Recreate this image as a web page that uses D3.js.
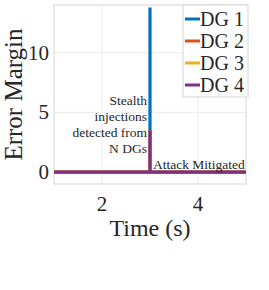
<!DOCTYPE html>
<html>
<head>
<meta charset="utf-8">
<script src="https://cdn.jsdelivr.net/npm/d3@7"></script>
<style>
  body { margin: 0; background: #fff; }
  text { font-family: "Liberation Serif", "Times New Roman", serif; fill: #262626; }
</style>
</head>
<body>
<div id="chart"></div>
<script>
// time samples (s) and error margin per DG
const time = [1, 3, 3, 3, 5];
const dg1 = [0, 0, 13.8, 0, 0];
const dg2 = [0, 0, 3.5, 0, 0];
const dg3 = [0, 0, 3.5, 0, 0];
const dg4 = [0, 0, 3.5, 0, 0];
const seriesNames = ["DG 1", "DG 2", "DG 3", "DG 4"];
const seriesColors = ["#0072BD", "#D95319", "#EDB120", "#7E2F8E"];
const xTicks = [2, 4];
const yTicks = [0, 5, 10];

const W = 269, H = 290;
const m = { left: 54, right: 23, top: 5, bottom: 106 };

const svg = d3.select("#chart").append("svg")
  .attr("width", W)
  .attr("height", H);

const x = d3.scaleLinear().domain([1, 5]).range([m.left, W - m.right]);
const y = d3.scaleLinear().domain([-1, 14]).range([H - m.bottom, m.top]);

// grid
svg.append("g").selectAll("line")
  .data(xTicks)
  .join("line")
  .attr("x1", d => x(d)).attr("x2", d => x(d))
  .attr("y1", y(-1)).attr("y2", y(14))
  .attr("stroke", "#ebebeb");
svg.append("g").selectAll("line")
  .data(yTicks)
  .join("line")
  .attr("x1", x(1)).attr("x2", x(5))
  .attr("y1", d => y(d)).attr("y2", d => y(d))
  .attr("stroke", "#ebebeb");

// box
svg.append("rect")
  .attr("x", x(1)).attr("y", y(14))
  .attr("width", x(5) - x(1)).attr("height", y(-1) - y(14))
  .attr("fill", "none").attr("stroke", "#d4d4d4");

// tick labels
svg.append("g").selectAll("text")
  .data(xTicks)
  .join("text")
  .attr("x", d => x(d)).attr("y", y(-1) + 27)
  .attr("text-anchor", "middle")
  .attr("font-size", 21)
  .text(d => d);
svg.append("g").selectAll("text")
  .data(yTicks)
  .join("text")
  .attr("x", x(1) - 5).attr("y", d => y(d) + 7)
  .attr("text-anchor", "end")
  .attr("font-size", 21)
  .text(d => d);

// axis titles
svg.append("text")
  .attr("x", (x(1) + x(5)) / 2).attr("y", 236)
  .attr("text-anchor", "middle")
  .attr("font-size", 24)
  .text("Time (s)");
svg.append("text")
  .attr("transform", `translate(22,${(y(-1) + y(14)) / 2}) rotate(-90)`)
  .attr("text-anchor", "middle")
  .attr("font-size", 25)
  .text("Error Margin");

// lines
const allSeries = [dg1, dg2, dg3, dg4];
const line = d3.line().x((d, i) => x(time[i])).y(d => y(d));
allSeries.forEach((s, k) => {
  svg.append("path")
    .datum(s)
    .attr("d", line)
    .attr("fill", "none")
    .attr("stroke", seriesColors[k])
    .attr("stroke-width", 3.2);
});

// annotations
const note = ["Stealth", "injections", "detected from", "N DGs"];
svg.append("g").selectAll("text")
  .data(note)
  .join("text")
  .attr("x", x(3) - 3)
  .attr("y", (d, i) => 105 + i * 16)
  .attr("text-anchor", "end")
  .attr("font-size", 13.5)
  .text(d => d);
svg.append("text")
  .attr("x", x(3) + 3).attr("y", 169)
  .attr("font-size", 13.5)
  .text("Attack Mitigated");

// legend
const lg = svg.append("g");
lg.append("rect")
  .attr("x", 183).attr("y", 5)
  .attr("width", 65).attr("height", 92)
  .attr("fill", "#fff").attr("stroke", "#d4d4d4");
seriesNames.forEach((name, k) => {
  const cy = 19 + k * 22;
  lg.append("line")
    .attr("x1", 185).attr("x2", 200)
    .attr("y1", cy).attr("y2", cy)
    .attr("stroke", seriesColors[k]).attr("stroke-width", 3);
  lg.append("text")
    .attr("x", 200).attr("y", cy + 7)
    .attr("font-size", 20)
    .text(name);
});
</script>
</body>
</html>
